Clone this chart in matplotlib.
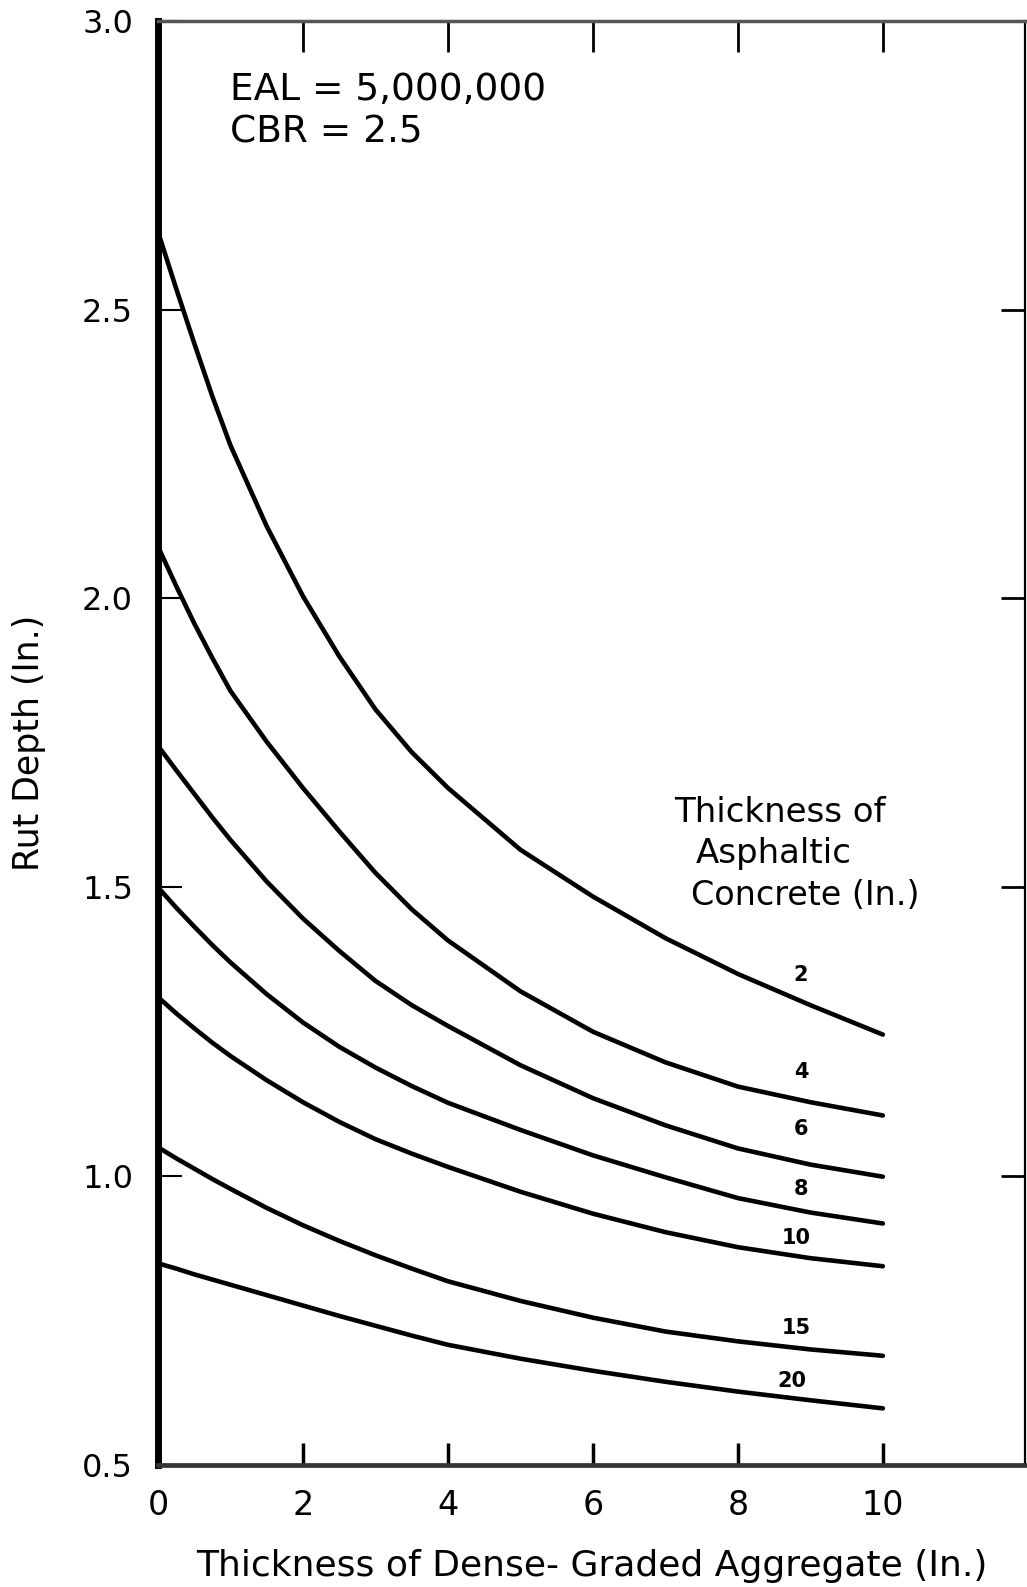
import matplotlib
matplotlib.use('Agg')
import matplotlib.pyplot as plt

# aggregate thickness (in.) at which each curve was read
agg = [0, 0.25, 0.5, 0.75, 1, 1.5, 2, 2.5, 3, 3.5, 4, 5, 6, 7, 8, 9, 10]

# rut depth (in.) for each asphaltic concrete thickness
ac_2 = [2.635, 2.537, 2.442, 2.35, 2.265, 2.125, 2.004, 1.90, 1.808, 1.734, 1.672, 1.565, 1.484, 1.412, 1.350, 1.296, 1.245]
ac_4 = [2.09, 2.022, 1.957, 1.897, 1.84, 1.752, 1.672, 1.597, 1.525, 1.462, 1.408, 1.32, 1.25, 1.197, 1.155, 1.128, 1.105]
ac_6 = [1.745, 1.703, 1.662, 1.621, 1.582, 1.51, 1.446, 1.39, 1.338, 1.296, 1.26, 1.192, 1.135, 1.088, 1.048, 1.02, 0.999]
ac_8 = [1.50, 1.465, 1.432, 1.40, 1.37, 1.315, 1.266, 1.224, 1.188, 1.156, 1.127, 1.08, 1.036, 0.998, 0.962, 0.937, 0.918]
ac_10 = [1.31, 1.282, 1.256, 1.231, 1.208, 1.166, 1.128, 1.094, 1.064, 1.039, 1.016, 0.973, 0.935, 0.903, 0.877, 0.858, 0.844]
ac_15 = [1.05, 1.031, 1.013, 0.995, 0.978, 0.945, 0.915, 0.888, 0.863, 0.84, 0.818, 0.784, 0.755, 0.731, 0.714, 0.70, 0.689]
ac_20 = [0.849, 0.84, 0.83, 0.821, 0.812, 0.794, 0.776, 0.758, 0.741, 0.724, 0.708, 0.684, 0.663, 0.644, 0.627, 0.612, 0.598]

curves = [ac_2, ac_4, ac_6, ac_8, ac_10, ac_15, ac_20]
curve_names = ['2', '4', '6', '8', '10', '15', '20']
name_x = [8.87, 8.87, 8.87, 8.87, 8.81, 8.81, 8.75]
name_y = [1.349, 1.181, 1.082, 0.977, 0.893, 0.737, 0.646]

x_ticks = [0, 2, 4, 6, 8, 10]
y_ticks = [0.5, 1.0, 1.5, 2.0, 2.5, 3.0]
y_labels = ['0.5', '1.0', '1.5', '2.0', '2.5', '3.0']

fig = plt.figure(figsize=(10.27, 15.87), dpi=100)
ax = fig.add_axes([0.1538, 0.0769, 0.8442, 0.9100])

for serie, nazwa, lx, ly in zip(curves, curve_names, name_x, name_y):
    ax.plot(agg, serie, color='black', lw=3.3, solid_capstyle='round', solid_joinstyle='round')
    ax.text(lx, ly, nazwa, fontsize=15, fontweight='bold', ha='center', va='center')

ax.text(1.0, 2.88, 'EAL = 5,000,000', fontsize=27, ha='left', va='center')
ax.text(1.0, 2.806, 'CBR = 2.5', fontsize=27, ha='left', va='center')

ax.text(7.12, 1.63, 'Thickness of', fontsize=24.5, ha='left', va='center')
ax.text(7.42, 1.559, 'Asphaltic', fontsize=24.5, ha='left', va='center')
ax.text(7.35, 1.485, 'Concrete (In.)', fontsize=24, ha='left', va='center')

ax.set_xlim(0, 11.96)
ax.set_ylim(0.5, 3.0)

ax.set_xticks(x_ticks)
ax.set_xticklabels([str(t) for t in x_ticks], fontsize=24)
ax.set_yticks(y_ticks)
ax.set_yticklabels(y_labels, fontsize=23)
ax.tick_params(axis='x', direction='in', length=16, width=2.5, pad=17)
ax.tick_params(axis='y', direction='in', length=17, width=1.5, pad=18)

top = ax.secondary_xaxis('top')
top.set_xticks(x_ticks[1:])
top.tick_params(direction='in', length=22, width=2, labeltop=False)
top.spines['top'].set_visible(False)

right = ax.secondary_yaxis('right')
right.set_yticks(y_ticks[1:-1])
right.tick_params(direction='in', length=17, width=2, labelright=False)
right.spines['right'].set_visible(False)

ax.spines['left'].set_linewidth(5)
ax.spines['bottom'].set_linewidth(3.4)
ax.spines['bottom'].set_color('#333333')
ax.spines['top'].set_linewidth(2.5)
ax.spines['top'].set_color('#555555')
ax.spines['right'].set_linewidth(1.6)

ax.set_xlabel('Thickness of Dense- Graded Aggregate (In.)', fontsize=26, labelpad=20)
ax.set_ylabel('Rut Depth (In.)', fontsize=25, labelpad=26)

fig.savefig('out.png', dpi=100)
